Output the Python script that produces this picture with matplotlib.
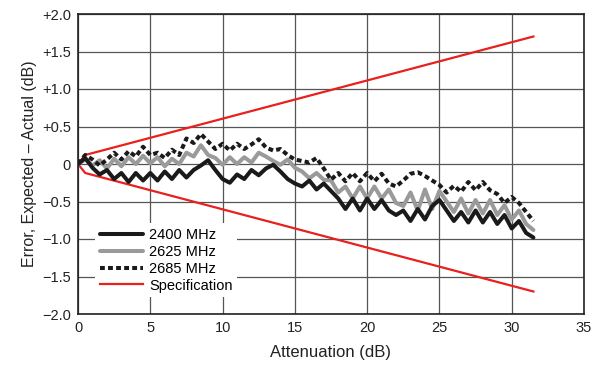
import matplotlib
matplotlib.use("Agg")
import matplotlib.pyplot as plt
from matplotlib import font_manager

names = {f.name for f in font_manager.fontManager.ttflist}
fam = "Liberation Sans Narrow" if "Liberation Sans Narrow" in names else "Liberation Sans"
plt.rcParams['font.family'] = [fam, 'DejaVu Sans']

atten = [i * 0.5 for i in range(64)]

err_2400 = [0.00, 0.08, -0.05, -0.14, -0.08, -0.20, -0.12, -0.24, -0.12, -0.22,
            -0.12, -0.22, -0.10, -0.20, -0.08, -0.18, -0.08, -0.02, 0.05, -0.08,
            -0.20, -0.25, -0.14, -0.20, -0.08, -0.15, -0.06, -0.01, -0.10, -0.20,
            -0.26, -0.30, -0.22, -0.34, -0.26, -0.36, -0.46, -0.60, -0.46, -0.62,
            -0.46, -0.60, -0.48, -0.62, -0.68, -0.62, -0.76, -0.60, -0.74, -0.56,
            -0.48, -0.62, -0.76, -0.64, -0.78, -0.62, -0.78, -0.64, -0.80, -0.68,
            -0.86, -0.76, -0.92, -0.98]

err_2625 = [0.00, 0.06, -0.02, 0.05, -0.06, 0.07, -0.03, 0.09, 0.00, 0.11,
            0.01, 0.09, -0.03, 0.07, 0.00, 0.15, 0.10, 0.25, 0.12, 0.08,
            -0.01, 0.09, 0.00, 0.09, 0.02, 0.15, 0.10, 0.04, -0.01, 0.06,
            -0.05, -0.10, -0.19, -0.12, -0.21, -0.22, -0.38, -0.30, -0.46, -0.30,
            -0.46, -0.30, -0.46, -0.34, -0.52, -0.56, -0.38, -0.62, -0.34, -0.60,
            -0.36, -0.50, -0.64, -0.46, -0.66, -0.48, -0.66, -0.48, -0.68, -0.55,
            -0.74, -0.62, -0.80, -0.88]

err_2685 = [0.00, 0.12, 0.06, -0.02, 0.06, 0.15, 0.06, 0.17, 0.10, 0.23,
            0.12, 0.15, 0.08, 0.19, 0.12, 0.34, 0.28, 0.40, 0.30, 0.20,
            0.27, 0.18, 0.27, 0.20, 0.26, 0.33, 0.22, 0.18, 0.20, 0.12,
            0.06, 0.04, 0.02, 0.08, -0.06, -0.21, -0.12, -0.23, -0.12, -0.23,
            -0.12, -0.23, -0.13, -0.26, -0.30, -0.22, -0.13, -0.11, -0.16, -0.22,
            -0.28, -0.38, -0.29, -0.37, -0.24, -0.35, -0.24, -0.35, -0.40, -0.52,
            -0.44, -0.52, -0.64, -0.76]

spec_x = [0.0, 0.5, 31.5]
spec_upper = [0.0, 0.12, 1.70]
spec_lower = [0.0, -0.12, -1.70]

xticks = [0, 5, 10, 15, 20, 25, 30, 35]
yticks = [-2.0, -1.5, -1.0, -0.5, 0.0, 0.5, 1.0, 1.5, 2.0]
ylabels = ["\u22122.0", "\u22121.5", "\u22121.0", "\u22120.5", "0", "+0.5", "+1.0", "+1.5", "+2.0"]

fig = plt.figure(figsize=(5.94, 3.73), dpi=100)
ax = fig.add_axes([78/594, 59/373, 506/594, 300/373])

lw = 2.9
ax.plot(atten, err_2625, color="#9a9a9a", lw=lw, label="2625 MHz", zorder=3,
        solid_joinstyle="round", solid_capstyle="round")
ax.plot(atten, err_2400, color="#1a1a1a", lw=lw, label="2400 MHz", zorder=4,
        solid_joinstyle="round", solid_capstyle="round")
ax.plot(atten, err_2685, color="#1a1a1a", lw=lw, ls=(0, (1.2, 0.8)), label="2685 MHz", zorder=4,
        dash_capstyle="butt", dash_joinstyle="round")
ax.plot(spec_x, spec_upper, color="#e8201e", lw=1.6, label="Specification", zorder=2)
ax.plot(spec_x, spec_lower, color="#e8201e", lw=1.6, zorder=2)

ax.set_xlim(0, 35)
ax.set_ylim(-2, 2)
ax.set_xticks(xticks)
ax.set_yticks(yticks)
ax.set_yticklabels(ylabels)
ax.tick_params(length=0, labelsize=10.5, pad=5, colors="#222222")
ax.grid(True, color="#555555", lw=0.9)
ax.set_axisbelow(True)
for s in ax.spines.values():
    s.set_linewidth(1.2)
    s.set_color("#222222")

ax.set_xlabel("Attenuation (dB)", fontsize=12, labelpad=7, color="#222222")
ax.set_ylabel("Error, Expected \u2013 Actual (dB)", fontsize=11.5, labelpad=4, color="#222222")

h, l = ax.get_legend_handles_labels()
order = [1, 0, 2, 3]
leg = ax.legend([h[i] for i in order], [l[i] for i in order], loc="lower left",
                bbox_to_anchor=(0.034, 0.057), borderaxespad=0, frameon=True,
                fancybox=False, framealpha=1, edgecolor="none", fontsize=10.5,
                handlelength=3.0, handletextpad=0.4, labelspacing=0.2, borderpad=0.3)
leg.set_zorder(5)

fig.savefig("out.png", dpi=100)
